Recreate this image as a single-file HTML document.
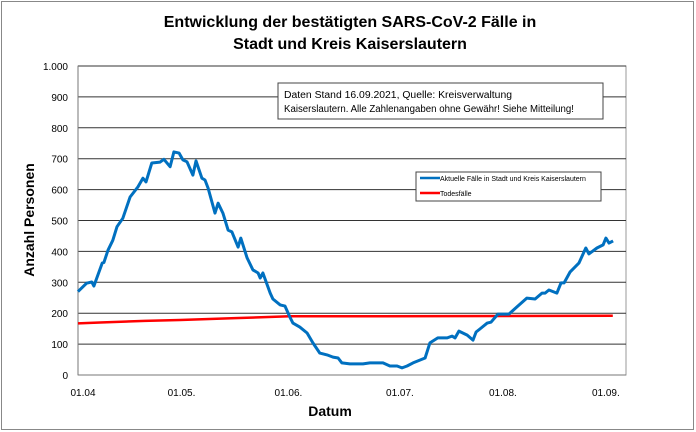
<!DOCTYPE html>
<html><head><meta charset="utf-8"><style>
body{margin:0;background:#fff;}
svg{display:block;font-family:"Liberation Sans",sans-serif;}
</style></head><body>
<svg width="696" height="432">
<rect x="1.5" y="1.5" width="692" height="428" fill="#fff" stroke="#888"/>
<text x="350" y="27" text-anchor="middle" font-size="16" font-weight="bold">Entwicklung der bestätigten SARS-CoV-2 Fälle in</text>
<text x="350" y="49" text-anchor="middle" font-size="16" font-weight="bold">Stadt und Kreis Kaiserslautern</text>
<rect x="78" y="66" width="548" height="309" fill="none" stroke="#999"/>
<g id="grid"></g><g id="yt"></g><g id="xt"></g>
<line x1="78" y1="66" x2="78" y2="375" stroke="#777"/>
<line x1="78" y1="375" x2="626" y2="375" stroke="#777"/>
<text transform="translate(34,220) rotate(-90)" text-anchor="middle" font-size="14" font-weight="bold">Anzahl Personen</text>
<text x="330" y="416" text-anchor="middle" font-size="14" font-weight="bold">Datum</text>
<path id="red" fill="none" stroke="#f00" stroke-width="2.5"/>
<path id="blue" fill="none" stroke="#0070c0" stroke-width="3" stroke-linejoin="round"/>
<g>
<rect x="278" y="83" width="325" height="36" fill="#fff" stroke="#444"/>
<text x="284" y="98" font-size="10" textLength="228" lengthAdjust="spacingAndGlyphs">Daten Stand 16.09.2021, Quelle: Kreisverwaltung</text>
<text x="284" y="112" font-size="10" textLength="290" lengthAdjust="spacingAndGlyphs">Kaiserslautern. Alle Zahlenangaben ohne Gewähr! Siehe Mitteilung!</text>
</g>
<g>
<rect x="416" y="172" width="185" height="29" fill="#fff" stroke="#444"/>
<line x1="420" y1="178" x2="440" y2="178" stroke="#0070c0" stroke-width="2.5"/>
<text x="440" y="181" font-size="7">Aktuelle Fälle in Stadt und Kreis Kaiserslautern</text>
<line x1="420" y1="193" x2="440" y2="193" stroke="#f00" stroke-width="2.5"/>
<text x="440" y="196" font-size="7">Todesfälle</text>
</g>
</svg>
<script>
const yTicks=[0,100,200,300,400,500,600,700,800,900,1000];
const yTickLabels=["0","100","200","300","400","500","600","700","800","900","1.000"];
const xTickDays=[0,30,61,91,122,153];
const xTickLabels=["01.04","01.05.","01.06.","01.07.","01.08.","01.09."];
const caseDays=[0,2.5,4,4.6,7,7.5,8.7,10.1,11.3,13,15.1,17.4,18.8,19.7,21.4,23.8,24.9,26.7,27.8,29.3,30.4,31.6,33.3,34.2,35.9,36.8,37.7,39.7,40.6,42,43.5,44.6,46.4,47.2,49,50.7,52.2,52.8,53.6,55.7,56.5,58.6,60,61.4,62.3,64.3,66.4,68.1,70.1,72.2,73.9,75.4,76.5,78.8,82.6,84.6,88.4,90.4,92.5,93.9,95.4,97.1,100.6,102,104.3,107,108.4,109.3,110.4,112.8,114.5,115.4,116.5,118.6,119.7,121.7,124.9,127.2,130.1,132.5,134.5,135.4,136.5,138.8,140,140.9,142.6,145.2,147.2,148.1,150.4,152.2,153,153.9,155.1];
const caseValues=[270,297,301,288,362,364,404,436,480,507,576,609,637,625,686,689,698,674,722,718,696,690,647,693,637,631,605,524,556,524,469,463,414,443,379,340,330,314,330,265,246,227,223,188,168,155,136,104,71,65,58,55,39,36,36,39,39,29,29,23,29,39,55,104,120,120,126,120,142,129,113,139,149,168,171,197,197,220,249,246,265,265,275,265,298,298,333,362,411,392,411,421,443,427,434];
const deathDays=[0,6.4,19.4,29.6,45.5,61.4,82,155];
const deathValues=[167,170,175,178,184,190,190,192];
const X=d=>78+d*3.45, Y=v=>375-v*0.309;
const NS="http://www.w3.org/2000/svg";
const grid=document.getElementById('grid'),yt=document.getElementById('yt'),xt=document.getElementById('xt');
yTicks.forEach((v,i)=>{
 if(v>0){const l=document.createElementNS(NS,'line');
 l.setAttribute('x1',78);l.setAttribute('x2',626);l.setAttribute('y1',Y(v));l.setAttribute('y2',Y(v));
 l.setAttribute('stroke','#333');l.setAttribute('stroke-width','1');
 
 
 grid.appendChild(l);}
 const t=document.createElementNS(NS,'text');
 t.setAttribute('x',68);t.setAttribute('y',Y(v)+4);t.setAttribute('text-anchor','end');t.setAttribute('font-size','10');
 t.textContent=yTickLabels[i];
 
 
 yt.appendChild(t);
});
xTickDays.forEach((d,i)=>{
 const t=document.createElementNS(NS,'text');
 t.setAttribute('x',X(d)+(i==0?5:i==3?8:i==4?4:0));t.setAttribute('y',396);t.setAttribute('text-anchor','middle');t.setAttribute('font-size','10');
 t.textContent=xTickLabels[i];
 
 
 xt.appendChild(t);
});
const path=(ds,vs)=>ds.map((d,i)=>(i?'L':'M')+X(d).toFixed(1)+','+Y(vs[i]).toFixed(1)).join('');
document.getElementById('blue').setAttribute('d',path(caseDays,caseValues));
document.getElementById('red').setAttribute('d',path(deathDays,deathValues));
</script>
</body></html>
